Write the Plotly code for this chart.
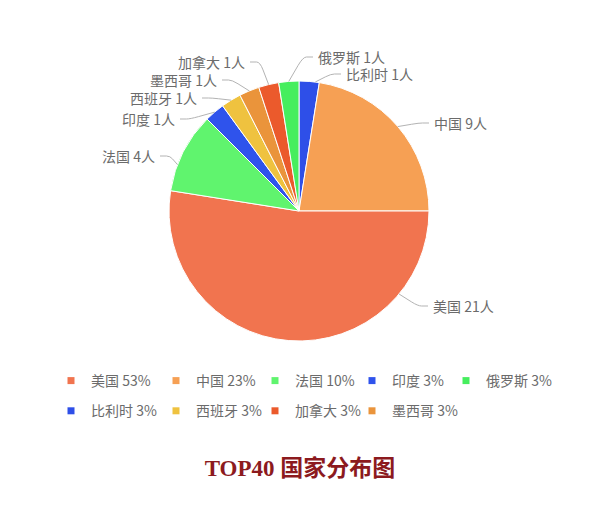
import math
import plotly.graph_objects as go

# Slices in drawing order (clockwise from 12 o'clock)
countries = ["比利时", "中国", "美国", "法国", "印度", "西班牙", "墨西哥", "加拿大", "俄罗斯"]
counts = [1, 9, 21, 4, 1, 1, 1, 1, 1]

# Legend order (read row by row, five entries per row)
legend_order = ["美国", "中国", "法国", "印度", "俄罗斯", "比利时", "西班牙", "加拿大", "墨西哥"]

colors = {
    "美国": "#F1744F",
    "中国": "#F6A054",
    "法国": "#60F46E",
    "印度": "#2F53EC",
    "俄罗斯": "#46EE5E",
    "比利时": "#2E4FE8",
    "西班牙": "#EFC23F",
    "加拿大": "#EB5A2C",
    "墨西哥": "#EA943B",
}

title_text = "TOP40 国家分布图"

W, H = 600, 516
# Pie geometry in pixels
PIE_CX, PIE_CY, PIE_R = 299, 211, 130

# Outside label placement: side of the text, text edge (px), and where the
# leader line leaves the slice (fraction of the slice's sweep)
label_layout = {
    "比利时": ("left", 345, 74, 0.8),
    "中国": ("left", 433, 123, 0.5),
    "美国": ("left", 432, 306, 0.21),
    "法国": ("right", 156, 156, 0.33),
    "印度": ("right", 176, 119, 0.5),
    "西班牙": ("right", 198, 98, 0.5),
    "墨西哥": ("right", 218, 80, 0.5),
    "加拿大": ("right", 246, 62, 0.5),
    "俄罗斯": ("left", 317, 57, 0.5),
}

# Legend grid: left edge of each column (px) and the two row centres (px)
LEGEND_COLS = [51, 156, 255, 352, 446]
LEGEND_ROWS = [381, 411]
PER_ROW = 5

FONT = "Noto Sans CJK SC, Noto Sans, sans-serif"
TEXT_GRAY = "#6b6b6b"
LINE_GRAY = "#b3b3b3"


def px_x(x):
    return x / W


def px_y(y):
    return 1 - y / H


total = sum(counts)

fig = go.Figure()
fig.add_trace(go.Pie(
    labels=countries,
    values=counts,
    sort=False,
    direction="clockwise",
    rotation=0,
    marker=dict(colors=[colors[c] for c in countries],
                line=dict(color="#ffffff", width=1)),
    textinfo="none",
    hoverinfo="label+value+percent",
    showlegend=False,
    domain=dict(x=[px_x(PIE_CX - PIE_R), px_x(PIE_CX + PIE_R)],
                y=[px_y(PIE_CY + PIE_R), px_y(PIE_CY - PIE_R)]),
))

# Outside labels with elbow leader lines
shapes = []
annotations = []
cum = 0
for name, val in zip(countries, counts):
    a0 = cum / total * 360
    a1 = (cum + val) / total * 360
    cum += val
    side, tx, ty, frac = label_layout[name]
    ang = math.radians(a0 + frac * (a1 - a0))
    ax = PIE_CX + PIE_R * math.sin(ang)
    ay = PIE_CY - PIE_R * math.cos(ang)
    if side == "left":
        ex, ey = tx - 4, ty
        kx = ex - 10
    else:
        ex, ey = tx + 4, ty
        kx = ex + 10
    ky = ty
    p1x, p1y = kx + 0.35 * (ax - kx), ky + 0.35 * (ay - ky)
    p2x, p2y = kx + 0.35 * (ex - kx), ky
    path = (f"M {px_x(ax)},{px_y(ay)} L {px_x(p1x)},{px_y(p1y)} "
            f"Q {px_x(kx)},{px_y(ky)} {px_x(p2x)},{px_y(p2y)} "
            f"L {px_x(ex)},{px_y(ey)}")
    shapes.append(dict(type="path", path=path, xref="paper", yref="paper",
                       line=dict(color=LINE_GRAY, width=1)))
    annotations.append(dict(
        text=f"{name} {val}人", x=px_x(tx), y=px_y(ty), xref="paper", yref="paper",
        xanchor="left" if side == "left" else "right", yanchor="middle",
        showarrow=False, borderpad=0,
        font=dict(family=FONT, size=14, color=TEXT_GRAY),
    ))

# Legend: one small vertical legend per column so the grid lines up
value_of = dict(zip(countries, counts))
legend_ids = ["legend"] + [f"legend{k}" for k in range(2, len(LEGEND_COLS) + 1)]
col_counts = [0] * len(LEGEND_COLS)
for i, name in enumerate(legend_order):
    col = i % PER_ROW
    col_counts[col] += 1
    pct = int(value_of[name] * 100 / total + 0.5)
    fig.add_trace(go.Scatter(
        x=[None], y=[None], mode="markers",
        marker=dict(symbol="square", size=7, color=colors[name]),
        name=f"{name} {pct}%",
        legend=legend_ids[col], legendgroup=name,
        showlegend=True, hoverinfo="skip",
    ))

legend_layouts = {}
for col, lid in enumerate(legend_ids):
    n = col_counts[col]
    y_mid = sum(LEGEND_ROWS[:n]) / n
    legend_layouts[lid] = dict(
        orientation="v", x=px_x(LEGEND_COLS[col]), y=px_y(y_mid),
        xanchor="left", yanchor="middle", bgcolor="rgba(0,0,0,0)",
        tracegroupgap=9,
        font=dict(family=FONT, size=14, color=TEXT_GRAY),
        itemclick=False, itemdoubleclick=False,
    )

fig.update_layout(
    width=W, height=H,
    margin=dict(l=0, r=0, t=0, b=0),
    paper_bgcolor="#ffffff", plot_bgcolor="#ffffff",
    xaxis=dict(visible=False), yaxis=dict(visible=False),
    title=dict(
        text=f"<b>{title_text}</b>", x=0.5, xanchor="center",
        y=px_y(468), yanchor="middle", yref="container",
        font=dict(family="Liberation Serif, Noto Sans CJK SC, serif", size=23,
                  color="#8C1A1E"),
    ),
    shapes=shapes,
    annotations=annotations,
    showlegend=True,
    **legend_layouts,
)

fig.write_html("out.html")
